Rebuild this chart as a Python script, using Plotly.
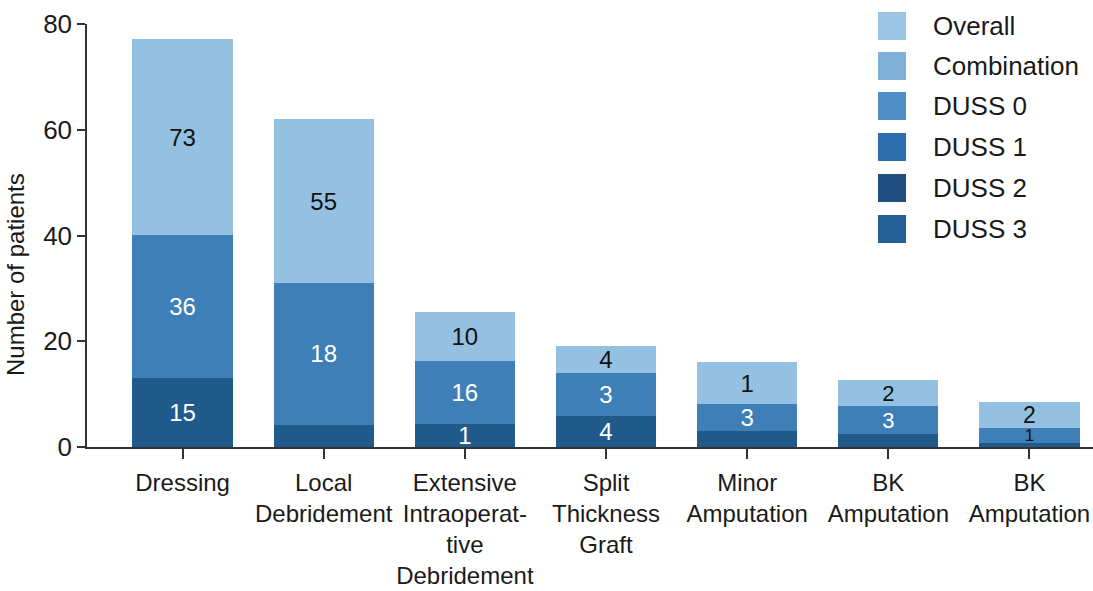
import plotly.graph_objects as go

# Treatment categories (one bar each)
categories = [
    "Dressing",
    "Local<br>Debridement",
    "Extensive<br>Intraoperat-<br>tive<br>Debridement",
    "Split<br>Thickness<br>Graft",
    "Minor<br>Amputation",
    "BK<br>Amputation",
    "BK<br>Amputation",
]

# Stacked segment sizes (number of patients), bottom to top
bottom_values = [13.1, 4.2, 4.3, 5.8, 3.0, 2.4, 0.7]
middle_values = [27.0, 26.8, 12.0, 8.2, 5.2, 5.3, 2.8]
top_values = [37.0, 31.0, 9.2, 5.1, 7.8, 4.9, 5.0]

# Printed segment labels
bottom_labels = ["15", "", "1", "4", "", "", ""]
middle_labels = ["36", "18", "16", "3", "3", "3", "1"]
top_labels = ["73", "55", "10", "4", "1", "2", "2"]

# Legend entries
legend_names = ["Overall", "Combination", "DUSS 0", "DUSS 1", "DUSS 2", "DUSS 3"]
legend_colors = ["#9cc4e4", "#80b1d9", "#4f8ec8", "#2c6eae", "#1f4f80", "#245f97"]

y_ticks = [0, 20, 40, 60, 80]

FONT = "Liberation Sans, Arial, Helvetica, sans-serif"
W, H = 1093, 591
ML, MR, MT, MB = 87, 0, 24, 144

x = list(range(len(categories)))

fig = go.Figure()

segments = [
    ("DUSS 2", bottom_values, bottom_labels, "#1f5a8b", "white"),
    ("DUSS 0", middle_values, middle_labels, "#3f7fb8", "white"),
    ("Overall", top_values, top_labels, "#94c0e1", "#111111"),
]
for name, vals, labels, color, tcolor in segments:
    sizes = [24, 24, 24, 24, 24, 22, 23]
    colors = [tcolor] * len(vals)
    if name == "DUSS 0":
        sizes[-1] = 17
        colors[-1] = "#111111"
    fig.add_trace(go.Bar(
        x=x, y=vals, name=name,
        marker=dict(color=color, line=dict(width=0)),
        text=labels, textposition="inside", insidetextanchor="middle",
        constraintext="none", textangle=0,
        textfont=dict(family=FONT, size=sizes, color=colors),
        width=0.71, showlegend=False,
    ))

fig.update_layout(
    barmode="stack",
    width=W, height=H, autosize=False,
    margin=dict(l=ML, r=MR, t=MT, b=MB, pad=0),
    paper_bgcolor="white", plot_bgcolor="white",
    font=dict(family=FONT, size=24, color="#1a1a1a"),
    uniformtext=dict(mode=False),
)

fig.update_xaxes(
    range=[-0.677, 6.45], automargin=False,
    tickmode="array", tickvals=x, ticktext=categories, tickangle=0,
    showline=True, linecolor="#333333", linewidth=1.5,
    ticks="outside", ticklen=10, tickcolor="#333333", tickwidth=1.5,
    ticklabelstandoff=3,
    tickfont=dict(family=FONT, size=24, color="#1a1a1a"),
    showgrid=False, zeroline=False,
)
fig.update_yaxes(
    range=[0, 80], automargin=False,
    tickmode="array", tickvals=y_ticks,
    showline=True, linecolor="#333333", linewidth=1.5,
    ticks="outside", ticklen=8, tickcolor="#333333", tickwidth=1.5,
    tickfont=dict(family=FONT, size=26, color="#1a1a1a"),
    showgrid=False, zeroline=False,
)

# Pixel-to-paper helpers for placing the title and legend
pw, ph = W - ML - MR, H - MT - MB
def px_x(p):
    return (p - ML) / pw
def px_y(p):
    return (H - MB - p) / ph

fig.add_annotation(
    text="Number of patients", textangle=-90,
    xref="paper", yref="paper", x=px_x(15), y=px_y(275),
    xanchor="center", yanchor="middle", showarrow=False,
    font=dict(family=FONT, size=24, color="#1a1a1a"),
)

# Legend drawn as swatches with labels
sw = 28
row_y = [26, 66, 106, 147, 188, 229]
for name, color, cy in zip(legend_names, legend_colors, row_y):
    fig.add_shape(
        type="rect", xref="paper", yref="paper",
        x0=px_x(878), x1=px_x(878 + sw),
        y0=px_y(cy + sw / 2), y1=px_y(cy - sw / 2),
        fillcolor=color, line=dict(width=0), layer="above",
    )
    fig.add_annotation(
        text=name, xref="paper", yref="paper",
        x=px_x(931), y=px_y(cy), xanchor="left", yanchor="middle",
        showarrow=False, font=dict(family=FONT, size=26, color="#1a1a1a"),
    )

fig.write_html("out.html")
